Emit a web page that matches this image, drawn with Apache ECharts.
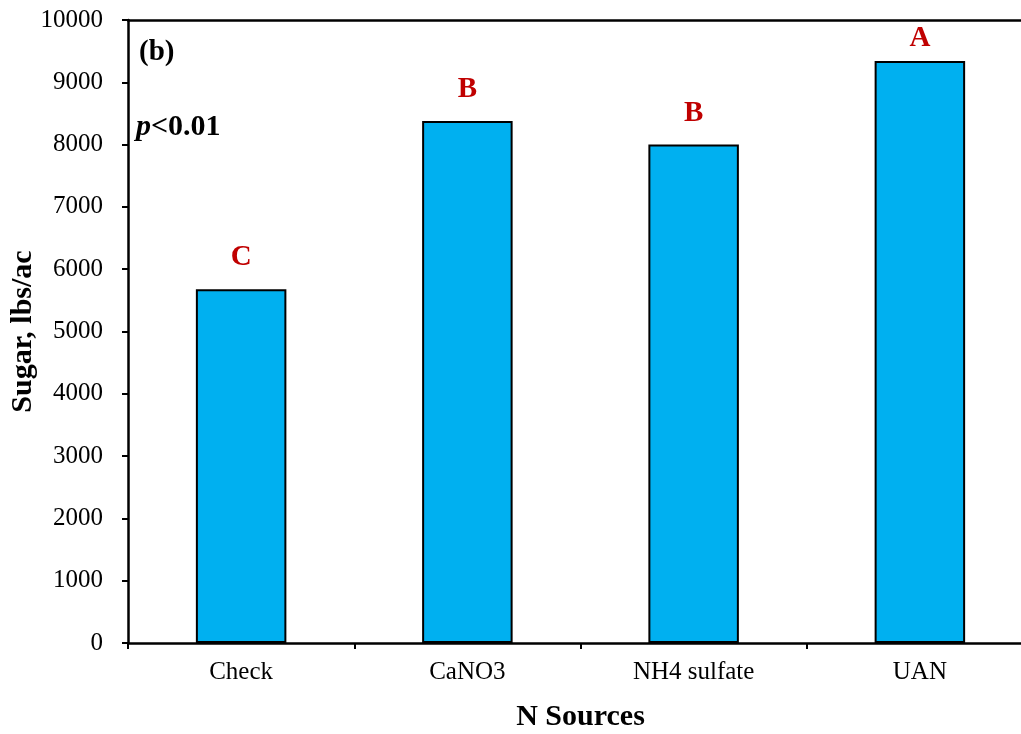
<!DOCTYPE html>
<html>
<head>
<meta charset="utf-8">
<title>Sugar yield by N source</title>
<script src="https://cdn.jsdelivr.net/npm/echarts@6/dist/echarts.min.js"></script>
<style>
  html, body { margin: 0; padding: 0; background: #ffffff; overflow: hidden; }
  #chart { width: 1021px; height: 734px; }
</style>
</head>
<body>
<div id="chart"></div>
<script>
// N source treatments and mean sugar yield (lbs/ac)
const categories = ['Check', 'CaNO3', 'NH4 sulfate', 'UAN'];
const sugarValues = [5680, 8380, 8000, 9340];
// Mean separation letters
const groupLetters = ['C', 'B', 'B', 'A'];
const yTicks = { min: 0, max: 10000, interval: 1000 };

const serif = '"Liberation Serif", "Times New Roman", serif';

const chart = echarts.init(document.getElementById('chart'), null, { renderer: 'canvas' });

const barData = sugarValues.map((v, i) => ({
  value: v,
  label: {
    formatter: groupLetters[i],
    distance: groupLetters[i] === 'A' ? 8 : 17
  }
}));

chart.setOption({
  animation: false,
  backgroundColor: '#ffffff',
  grid: {
    left: 128, top: 20, width: 905, height: 623,
    containLabel: false,
    outerBoundsMode: 'none'
  },
  xAxis: [
    {
      type: 'category',
      data: categories,
      position: 'bottom',
      boundaryGap: true,
      axisLine: { show: true, lineStyle: { color: '#000', width: 2.5 } },
      axisTick: { show: true, length: 6, inside: false, alignWithLabel: false, lineStyle: { color: '#000', width: 2 } },
      axisLabel: { color: '#000', fontFamily: serif, fontSize: 25, margin: 17 },
      name: 'N Sources',
      nameLocation: 'middle',
      nameGap: 59,
      nameMoveOverlap: false,
      nameTextStyle: { color: '#000', fontFamily: serif, fontSize: 30, fontWeight: 'bold' },
      splitLine: { show: false }
    },
    {
      type: 'category',
      data: categories,
      position: 'top',
      axisLine: { show: true, lineStyle: { color: '#000', width: 2.5 } },
      axisTick: { show: false },
      axisLabel: { show: false },
      splitLine: { show: false }
    }
  ],
  yAxis: {
    type: 'value',
    min: yTicks.min,
    max: yTicks.max,
    interval: yTicks.interval,
    axisLine: { show: true, lineStyle: { color: '#000', width: 2.5 } },
    axisTick: { show: true, length: 6, inside: false, lineStyle: { color: '#000', width: 2 } },
    axisLabel: {
      color: '#000', fontFamily: serif, fontSize: 25, margin: 25,
      formatter: (v) => String(v)
    },
    splitLine: { show: false },
    name: 'Sugar, lbs/ac',
    nameLocation: 'middle',
    nameRotate: 90,
    nameGap: 90,
    nameMoveOverlap: false,
    nameTextStyle: { color: '#000', fontFamily: serif, fontSize: 30, fontWeight: 'bold' }
  },
  series: [
    {
      type: 'bar',
      xAxisIndex: 0,
      data: barData,
      barWidth: '40%',
      itemStyle: { color: '#00B0F0', borderColor: '#000', borderWidth: 2 },
      label: {
        show: true,
        position: 'top',
        color: '#C00000',
        fontFamily: serif,
        fontSize: 29,
        fontWeight: 'bold'
      }
    }
  ],
  graphic: [
    {
      type: 'text',
      left: 139,
      top: 38,
      style: { text: '(b)', fill: '#000', font: 'bold 29px ' + serif }
    },
    {
      type: 'text',
      left: 136,
      top: 112,
      style: {
        text: '{i|p}{b|<0.01}',
        rich: {
          i: { fill: '#000', fontFamily: serif, fontSize: 30, fontWeight: 'bold', fontStyle: 'italic' },
          b: { fill: '#000', fontFamily: serif, fontSize: 30, fontWeight: 'bold' }
        }
      }
    }
  ]
});
</script>
</body>
</html>
